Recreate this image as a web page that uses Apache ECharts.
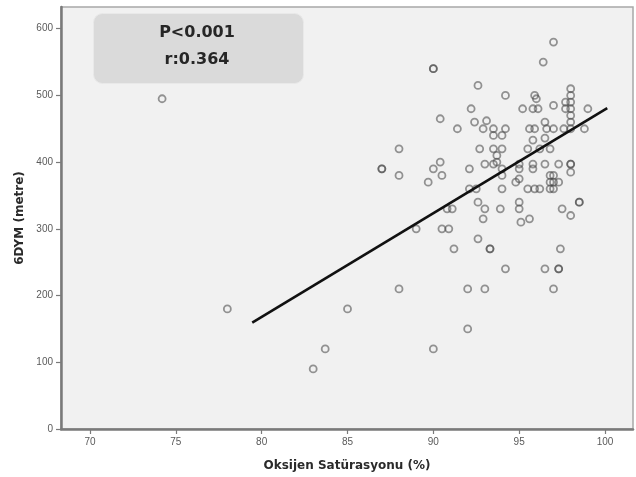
<!DOCTYPE html>
<html>
<head>
<meta charset="utf-8">
<script src="https://cdn.jsdelivr.net/npm/echarts@6/dist/echarts.min.js"></script>
<style>
  html, body { margin: 0; padding: 0; background: #fff; }
  #chart { width: 636px; height: 477px; }
</style>
</head>
<body>
<div id="chart"></div>
<script>
// oxygen saturation (%) and 6 minute walk distance (metre)
const oxygenSat = [
  74.2, 78, 83, 83.7, 85, 87, 87, 88, 88, 88, 89, 89.7, 90, 90, 90, 90.4, 90.5, 90.4, 90, 90.5,
  90.9, 90.8, 91.1, 91.2, 91.4, 92, 92, 92.1, 92.1, 92.5, 92.2, 92.4, 92.6, 92.6, 92.6, 92.7,
  92.9, 93.1, 93.5, 92.9, 93, 93, 93, 93.3, 93.3, 93.5, 93.5, 93.5, 93.7, 93.7, 94, 94, 94, 94,
  94, 93.9, 94.2, 94.2, 94.2, 94.8, 95, 95, 95, 95, 95, 95.1, 95.2, 95.5, 95.5, 95.6, 95.6, 95.8,
  95.8, 95.8, 95.8, 95.9, 95.9, 95.9, 96, 96.1, 96.2, 96.2, 96.4, 96.5, 96.5, 96.5, 96.5, 96.6,
  96.8, 96.8, 96.8, 96.8, 97, 97, 97, 97, 97, 97, 97, 97.3, 97.3, 97.3, 97.3, 97.4, 97.5, 97.6,
  97.7, 97.7, 98, 98, 98, 98, 98, 98, 98, 98, 98, 98, 98, 98.5, 98.5, 98.8, 99
];
const walkDist = [
  495, 180, 90, 120, 180, 390, 390, 420, 380, 210, 300, 370, 540, 540, 390, 400, 380, 465, 120, 300,
  300, 330, 330, 270, 450, 210, 150, 390, 360, 360, 480, 460, 515, 340, 285, 420,
  450, 462, 450, 315, 330, 210, 397, 270, 270, 440, 420, 397, 410, 400, 440, 420, 390, 380,
  360, 330, 450, 500, 240, 370, 375, 397, 390, 340, 330, 310, 480, 420, 360, 450, 315, 480,
  433, 397, 390, 450, 360, 500, 495, 480, 360, 420, 550, 460, 436, 397, 240, 450,
  420, 380, 370, 360, 580, 485, 450, 380, 370, 360, 210, 397, 370, 240, 240, 270, 330, 450,
  490, 480, 510, 500, 490, 480, 470, 460, 450, 397, 397, 385, 320, 340, 340, 450, 480
];
// fit line end points
const fitX = [79.45, 100.13];
const fitY = [159.5, 481];
const xTicks = [70, 75, 80, 85, 90, 95, 100];
const yTicks = [0, 100, 200, 300, 400, 500, 600];

const points = oxygenSat.map((x, i) => [x, walkDist[i]]);
const fitLine = fitX.map((x, i) => [x, fitY[i]]);

const chart = echarts.init(document.getElementById('chart'));

const option = {
  backgroundColor: '#ffffff',
  animation: false,
  grid: {
    left: 61,
    right: 3,
    top: 7,
    bottom: 48,
    show: true,
    backgroundColor: '#f1f1f1',
    borderColor: '#a8a8a8',
    borderWidth: 1.5
  },
  xAxis: {
    type: 'value',
    min: 68.31,
    max: 101.63,
    splitLine: { show: false },
    axisLine: { show: true, onZero: false, lineStyle: { color: '#7a7a7a', width: 2.5 } },
    axisTick: { show: true, length: 5, customValues: xTicks, lineStyle: { color: '#7a7a7a', width: 1.2 } },
    axisLabel: { customValues: xTicks, color: '#5a5a5a', fontSize: 10, margin: 8, fontFamily: 'Liberation Sans' },
    name: 'Oksijen Satürasyonu (%)',
    nameLocation: 'middle',
    nameGap: 31,
    nameTextStyle: { color: '#2a2a2a', fontSize: 12, fontWeight: 'bold', fontFamily: 'DejaVu Sans' }
  },
  yAxis: {
    type: 'value',
    min: 0,
    max: 632.5,
    splitLine: { show: false },
    axisLine: { show: true, onZero: false, lineStyle: { color: '#7a7a7a', width: 2.5 } },
    axisTick: { show: true, length: 5, customValues: yTicks, lineStyle: { color: '#7a7a7a', width: 1.2 } },
    axisLabel: { customValues: yTicks, color: '#5a5a5a', fontSize: 10, margin: 8, fontFamily: 'Liberation Sans' },
    name: '6DYM (metre)',
    nameLocation: 'middle',
    nameGap: 35,
    nameRotate: 90,
    nameTextStyle: { color: '#2a2a2a', fontSize: 12, fontWeight: 'bold', fontFamily: 'DejaVu Sans' }
  },
  graphic: [
    {
      type: 'rect',
      left: 93,
      top: 13,
      shape: { width: 210, height: 70, r: 9 },
      style: { fill: '#dadada', stroke: '#e9e9e9', lineWidth: 1 },
      z: 10
    },
    {
      type: 'text',
      x: 197,
      y: 33,
      style: {
        text: 'P<0.001',
        fill: '#262626',
        font: 'bold 16px "DejaVu Sans"',
        textAlign: 'center',
        textVerticalAlign: 'middle'
      },
      z: 11
    },
    {
      type: 'text',
      x: 197,
      y: 60,
      style: {
        text: 'r:0.364',
        fill: '#262626',
        font: 'bold 16px "DejaVu Sans"',
        textAlign: 'center',
        textVerticalAlign: 'middle'
      },
      z: 11
    }
  ],
  series: [
    {
      type: 'scatter',
      data: points,
      symbol: 'circle',
      symbolSize: 7,
      itemStyle: {
        color: 'rgba(0,0,0,0)',
        borderColor: 'rgba(70,70,70,0.7)',
        borderWidth: 1.8
      },
      z: 3
    },
    {
      type: 'line',
      data: fitLine,
      symbol: 'none',
      lineStyle: { color: '#111111', width: 2.6 },
      z: 4
    }
  ]
};

chart.setOption(option);
</script>
</body>
</html>
